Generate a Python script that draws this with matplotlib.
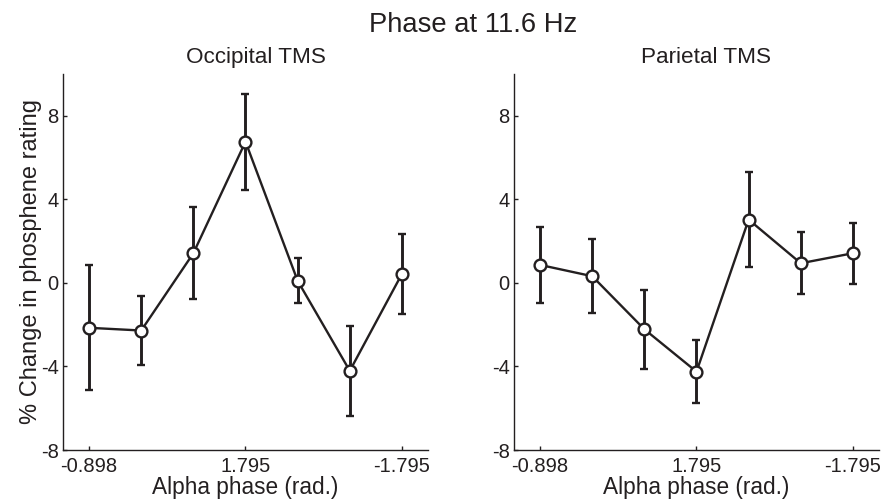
import matplotlib
matplotlib.use("Agg")
import matplotlib.pyplot as plt

# -------------------------
# Data
# -------------------------

phase_bins = [1, 2, 3, 4, 5, 6, 7]
tick_pos = [1, 4, 7]
tick_labels = ["-0.898", "1.795", "-1.795"]

occipital_mean = [-2.15, -2.28, 1.42, 6.76, 0.10, -4.21, 0.43]
occipital_err = [3.00, 1.64, 2.20, 2.30, 1.07, 2.15, 1.92]

parietal_mean = [0.86, 0.32, -2.22, -4.25, 3.03, 0.94, 1.42]
parietal_err = [1.80, 1.78, 1.90, 1.52, 2.28, 1.49, 1.45]

panels = [("Occipital TMS", occipital_mean, occipital_err),
          ("Parietal TMS", parietal_mean, parietal_err)]

ink = "#231f20"
plt.rcParams["font.family"] = ["Liberation Sans", "DejaVu Sans"]
plt.rcParams["text.color"] = ink
plt.rcParams["axes.unicode_minus"] = False

W, H = 895, 500
fig = plt.figure(figsize=(W / 100, H / 100), dpi=100)

# axes boxes in pixels: left, right, top, bottom
boxes = [(63, 428, 74, 450), (514, 879, 74, 450)]

for (title, mean, err), (x0, x1, y0, y1) in zip(panels, boxes):
    ax = fig.add_axes([x0 / W, 1 - y1 / H, (x1 - x0) / W, (y1 - y0) / H])
    ax.errorbar(phase_bins, mean, yerr=err, color=ink, lw=1.7,
                elinewidth=2.1, capsize=3, capthick=2.1,
                marker="o", ms=8.5, mfc="white", mec=ink, mew=1.7)
    ax.set_xlim(0.5, 7.5)
    ax.set_ylim(-8, 10)
    ax.set_yticks([-8, -4, 0, 4, 8])
    ax.set_xticks(tick_pos)
    ax.set_xticklabels(tick_labels)
    for side in ["top", "right"]:
        ax.spines[side].set_visible(False)
    for side in ["left", "bottom"]:
        ax.spines[side].set_color(ink)
        ax.spines[side].set_linewidth(1.0)
    ax.tick_params(direction="in", length=3, width=1.0, colors=ink,
                   labelsize=14.5, labelcolor=ink)
    ax.tick_params(axis="x", pad=5)
    ax.tick_params(axis="y", pad=3)
    ax.set_xlabel("Alpha phase (rad.)", fontsize=16.3, color=ink, labelpad=0)
    fig.text((x0 + x1) / 2 / W + 10 / W, 1 - 63 / H, title, ha="center",
             va="baseline", fontsize=16.2, color=ink)

    if x0 < 100:
        ax.set_ylabel("% Change in phosphene rating", fontsize=17, color=ink,
                      labelpad=-1)

fig.text(473 / W, 1 - 32 / H, "Phase at 11.6 Hz", ha="center", va="baseline",
         fontsize=19.7, color=ink)

fig.savefig("out.png", dpi=100)
